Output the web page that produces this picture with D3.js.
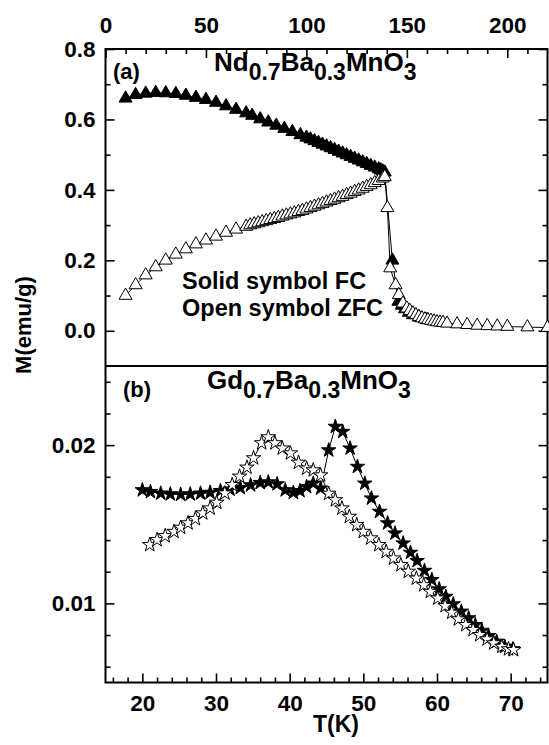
<!DOCTYPE html>
<html lang="en">
<head>
  <meta charset="UTF-8">
  <title>M vs T</title>
  <style>
    html, body { margin: 0; background: #fff; }
    svg { display: block; }
    text { font-family: "Liberation Sans", Arial, sans-serif; font-weight: bold; fill: #000; }
  </style>
</head>
<body>
  <svg width="549" height="745"></svg>
  <script src="https://cdn.jsdelivr.net/npm/d3@7"></script>
  <script>
    // (a) Nd0.7Ba0.3MnO3, read against the top T axis
    var ndFcT = [10, 15, 20, 25, 30, 35, 40, 45, 50, 55, 60, 65, 70, 73, 77, 81, 85, 89, 93, 97,
      100, 102, 104, 106, 108, 110, 112, 114, 116, 118, 120, 122, 124, 126, 128, 130, 132, 134, 136,
      137, 138, 139, 142.8, 145.8, 147.5, 149, 151, 153, 156, 160]
    var ndFcM = [0.660, 0.670, 0.674, 0.676, 0.675, 0.673, 0.668, 0.662, 0.656, 0.648, 0.638, 0.628, 0.618,
      0.611, 0.601, 0.592, 0.583, 0.574, 0.565, 0.556,
      0.549, 0.544, 0.539, 0.534, 0.529, 0.524, 0.519, 0.514, 0.509, 0.504, 0.499, 0.494, 0.489, 0.484,
      0.479, 0.474, 0.469, 0.464, 0.459,
      0.456, 0.453, 0.450, 0.200, 0.083, 0.072, 0.062, 0.052, 0.045, 0.038, 0.031]
    var ndZfcT = [10, 15, 20, 25, 30, 35, 40, 45, 50, 55, 60, 65, 70,
      72, 74, 76, 78, 80, 82, 84, 86, 88, 90, 92, 94, 96, 98, 100, 102, 104, 106, 108, 110,
      112, 114, 116, 118, 120, 122, 124, 126, 128, 130, 132, 134, 136, 138,
      139, 140.3, 141.7, 144.4, 146, 148, 150, 151.5, 153, 154.5, 156, 157.5, 159, 160.5, 162, 163.5,
      165, 166.5, 168, 170, 175, 180, 185, 190, 195, 200, 210, 220]
    var ndZfcM = [0.100, 0.130, 0.158, 0.181, 0.200, 0.217, 0.232, 0.246, 0.257, 0.268, 0.279, 0.288, 0.296,
      0.300, 0.303, 0.306, 0.309, 0.312, 0.315, 0.318, 0.321, 0.325, 0.328, 0.331, 0.334, 0.338, 0.341,
      0.345, 0.349, 0.353, 0.357, 0.361, 0.365, 0.369, 0.373, 0.377, 0.381, 0.386, 0.390, 0.395, 0.399,
      0.404, 0.409, 0.414, 0.420, 0.426, 0.433,
      0.437, 0.349, 0.178, 0.130, 0.102, 0.078, 0.064, 0.057, 0.050, 0.045, 0.040, 0.036, 0.033, 0.031,
      0.029, 0.027, 0.025, 0.024, 0.023, 0.021, 0.019, 0.017, 0.015, 0.014, 0.013, 0.012, 0.0105, 0.009]

    // (b) Gd0.7Ba0.3MnO3, read against the bottom T axis
    var gdFcT = [20.0, 21.1, 22.5, 23.8, 25.2, 26.5, 27.9, 29.2, 30.6, 31.9, 33.3, 34.7, 36.0, 37.1, 38.3,
      39.4, 40.5, 41.4, 42.3, 43.2, 44.2, 45.3, 46.2, 47.2, 48.2, 49.2, 50.2, 51.1, 52.2, 53.3, 54.3,
      55.4, 56.4, 57.3, 58.3, 59.3, 60.3, 61.2, 62.2, 63.3, 64.3, 65.2, 66.1, 67.0, 68.1, 69.2, 70.3]
    var gdFcM = [0.01716, 0.01705, 0.01695, 0.01690, 0.01688, 0.01690, 0.01695, 0.01700, 0.01711, 0.01720,
      0.01730, 0.01747, 0.01762, 0.01766, 0.01754, 0.01716, 0.01700, 0.01711, 0.01736, 0.01758, 0.01727,
      0.01968, 0.02117, 0.02085, 0.01980, 0.01864, 0.01758, 0.01664, 0.01580, 0.01507, 0.01443, 0.01380,
      0.01321, 0.01269, 0.01207, 0.01149, 0.01090, 0.01043, 0.00995, 0.00949, 0.00907, 0.00864, 0.00828,
      0.00795, 0.00759, 0.00727, 0.00711]
    var gdZfcT = [21.0, 22.0, 23.1, 24.3, 25.2, 26.2, 27.2, 28.2, 29.2, 30.1, 31.2, 32.2, 33.2, 34.2, 35.1,
      36.2, 37.1, 38.0, 39.0, 40.1, 41.2, 42.3, 43.2, 44.2, 45.3, 46.2, 47.1, 48.1, 49.1, 50.0, 51.0,
      52.1, 53.1, 54.1, 55.1, 56.1, 57.2, 58.2, 59.1, 60.1, 61.1, 62.0, 62.9, 63.9, 64.9, 65.8, 66.8,
      67.7, 68.8, 69.7, 70.4]
    var gdZfcM = [0.01370, 0.01401, 0.01426, 0.01453, 0.01479, 0.01507, 0.01534, 0.01570, 0.01601, 0.01637,
      0.01696, 0.01749, 0.01802, 0.01859, 0.01918, 0.02013, 0.02051, 0.02013, 0.01980, 0.01949, 0.01890,
      0.01853, 0.01842, 0.01810, 0.01694, 0.01653, 0.01601, 0.01548, 0.01496, 0.01453, 0.01412, 0.01370,
      0.01327, 0.01285, 0.01243, 0.01201, 0.01158, 0.01116, 0.01074, 0.01032, 0.00984, 0.00942, 0.00900,
      0.00864, 0.00833, 0.00801, 0.00774, 0.00749, 0.00727, 0.00711, 0.00706]

    // tick labels
    var topTicks = [0, 50, 100, 150, 200]
    var botTicks = [20, 30, 40, 50, 60, 70]
    var aTicks = [0, 0.2, 0.4, 0.6, 0.8]
    var bTicks = [0.01, 0.02]

    var svg = d3.select('svg')
    // plot box edges (window.top is reserved, so p-prefixed names)
    var pL = 105.5, pR = 547.5, pT = 49, pM = 366, pB = 682.5

    var xTop = d3.scaleLinear().domain([0, 220]).range([pL, pR])
    var xBot = d3.scaleLinear().domain([15, 75]).range([pL, pR])
    var yA = d3.scaleLinear().domain([-0.1, 0.8]).range([pM, pT])
    var yB = d3.scaleLinear().domain([0.005, 0.025]).range([pB, pM])

    function notIn(list) {
      return v => !list.some(m => Math.abs(m - v) < 1e-9)
    }

    // inward ticks: minor ones first, then majors with labels
    function drawAxis(make, scale, pos, major, minor, fmt, pad) {
      svg.append('g').attr('transform', pos)
        .call(make(scale).tickValues(minor.filter(notIn(major))).tickSizeInner(-5).tickSizeOuter(0).tickFormat(''))
        .call(g => g.select('.domain').remove())
        .call(g => g.selectAll('line').attr('stroke-width', 1.6))
      svg.append('g').attr('transform', pos)
        .call(make(scale).tickValues(major).tickSizeInner(-9).tickSizeOuter(0)
          .tickPadding(pad).tickFormat(fmt || ''))
        .call(g => g.select('.domain').remove())
        .call(g => g.selectAll('line').attr('stroke-width', 1.6))
        .call(g => g.selectAll('text').attr('font-size', 22.5).attr('font-family', null))
    }

    var fmtA = d => d3.format('.1f')(d)
    var fmtB = d => d3.format('.2f')(d)

    drawAxis(d3.axisTop, xTop, `translate(0,${pT})`, topTicks, d3.range(10, 220, 10), d3.format('d'), 16)
    drawAxis(d3.axisBottom, xBot, `translate(0,${pB})`, botTicks, d3.range(16, 75, 2), d3.format('d'), 13)
    drawAxis(d3.axisLeft, yA, `translate(${pL},0)`, aTicks, [0.1, 0.3, 0.5, 0.7], fmtA, 10)
    drawAxis(d3.axisRight, yA, `translate(${pR},0)`, aTicks, [0.1, 0.3, 0.5, 0.7], null, 10)
    drawAxis(d3.axisLeft, yB, `translate(${pL},0)`, bTicks, d3.range(0.006, 0.025, 0.002), fmtB, 10)
    drawAxis(d3.axisRight, yB, `translate(${pR},0)`, bTicks, d3.range(0.006, 0.025, 0.002), null, 10)

    // frame and divider
    svg.append('rect')
      .attr('x', pL).attr('y', pT)
      .attr('width', pR - pL).attr('height', pB - pT)
      .attr('fill', 'none').attr('stroke', '#000').attr('stroke-width', 2)
    svg.append('line')
      .attr('x1', pL).attr('x2', pR).attr('y1', pM).attr('y2', pM)
      .attr('stroke', '#000').attr('stroke-width', 2)

    function series(xs, ys, T, M, sym, size, fill) {
      var pts = T.map((t, i) => [xs(t), ys(M[i])])
      svg.append('path')
        .attr('d', d3.line()(pts))
        .attr('fill', 'none').attr('stroke', '#000').attr('stroke-width', 1)
      svg.append('g').selectAll('path')
        .data(pts)
        .join('path')
        .attr('transform', d => `translate(${d[0]},${d[1]})`)
        .attr('d', d3.symbol(sym, size))
        .attr('fill', fill).attr('stroke', '#000').attr('stroke-width', 1)
    }

    series(xTop, yA, ndFcT, ndFcM, d3.symbolTriangle, 73, '#000')
    series(xTop, yA, ndZfcT, ndZfcM, d3.symbolTriangle, 73, '#fff')
    series(xBot, yB, gdFcT, gdFcM, d3.symbolStar, 65, '#000')
    series(xBot, yB, gdZfcT, gdZfcM, d3.symbolStar, 65, '#fff')

    // chemical formula with subscripts
    function formula(x, y, parts, big, small, shift) {
      var t = svg.append('text').attr('x', x).attr('y', y).attr('font-size', big)
      var down = false
      parts.forEach(p => {
        var sub = p[1]
        t.append('tspan').text(p[0])
          .attr('font-size', sub ? small : big)
          .attr('dy', sub === down ? 0 : (sub ? shift : -shift))
        down = sub
      })
    }

    svg.append('text').attr('x', 113).attr('y', 79).attr('font-size', 22).text('(a)')
    formula(214, 80, [['Nd', 0], ['0.7', 1], ['Ba', 0], ['0.3', 1], ['MnO', 0], ['3', 1]], 26, 23, 9)
    svg.append('text').attr('x', 123).attr('y', 397).attr('font-size', 22).text('(b)')
    formula(207, 398, [['Gd', 0], ['0.7', 1], ['Ba', 0], ['0.3', 1], ['MnO', 0], ['3', 1]], 26, 23, 9)

    svg.append('text').attr('x', 182).attr('y', 289).attr('font-size', 23.5).text('Solid symbol FC')
    svg.append('text').attr('x', 182).attr('y', 316).attr('font-size', 23.5).text('Open symbol ZFC')

    svg.append('text')
      .attr('transform', 'translate(31,325) rotate(-90)')
      .attr('text-anchor', 'middle').attr('font-size', 22)
      .text('M(emu/g)')
    svg.append('text')
      .attr('x', 336).attr('y', 732)
      .attr('text-anchor', 'middle').attr('font-size', 23)
      .text('T(K)')
  </script>
</body>
</html>
